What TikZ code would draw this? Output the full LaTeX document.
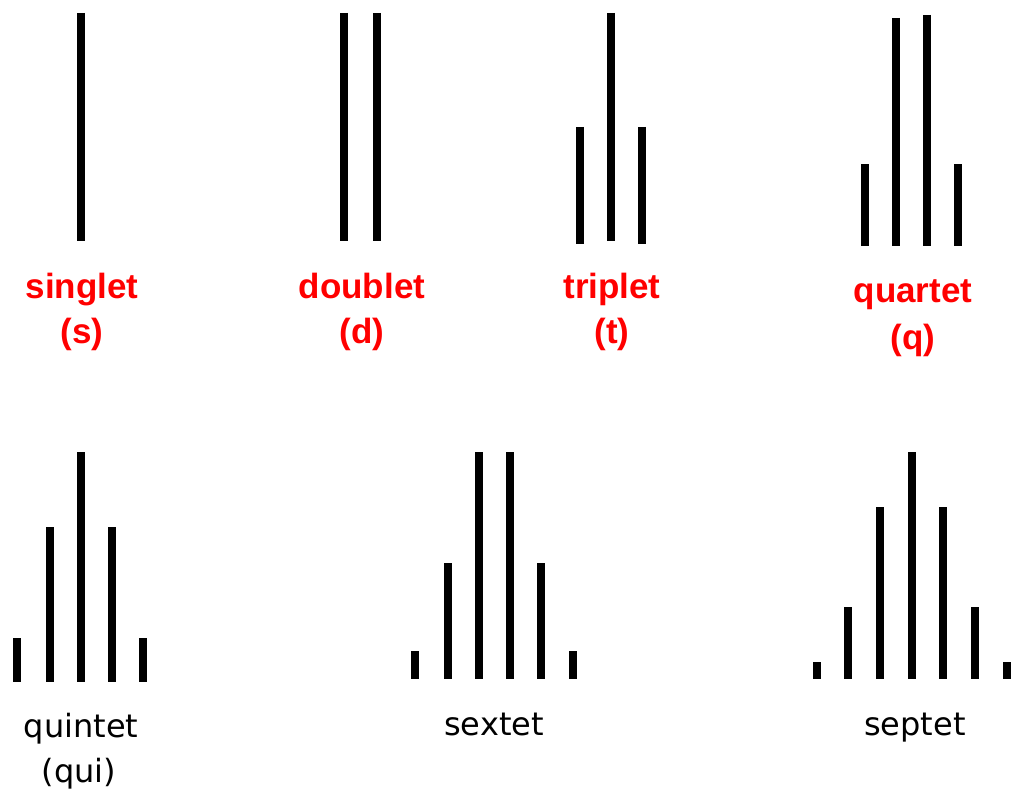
\documentclass[tikz,border=0pt]{standalone}
\usepackage{fontspec}
\setmainfont{Liberation Sans}
\newfontfamily\blackfont{DejaVu Sans}
\begin{document}
\begin{tikzpicture}[x=1pt,y=-1pt,
  bar/.style={line width=8.5pt,black,line cap=butt},
  redlbl/.style={anchor=base,inner sep=0pt,text=red,font=\fontsize{35}{40}\selectfont\bfseries},
  blklbl/.style={anchor=base,inner sep=0pt,text=black,font=\blackfont\fontsize{32}{38}\selectfont}]
\useasboundingbox (0,0) rectangle (1014,789);
% singlet
\draw[bar] (81,13) -- (81,241);
% doublet
\draw[bar] (344,13) -- (344,241);
\draw[bar] (377,13) -- (377,241);
% triplet
\draw[bar] (580,127) -- (580,244);
\draw[bar] (611,13) -- (611,241);
\draw[bar] (642,127) -- (642,244);
% quartet
\draw[bar] (865,164) -- (865,246);
\draw[bar] (896,18) -- (896,246);
\draw[bar] (927,15) -- (927,246);
\draw[bar] (958,164) -- (958,246);
% quintet
\draw[bar] (17,638) -- (17,682);
\draw[bar] (50,527) -- (50,682);
\draw[bar] (81,452) -- (81,682);
\draw[bar] (112,527) -- (112,682);
\draw[bar] (143,638) -- (143,682);
% sextet
\draw[bar] (415,651) -- (415,679);
\draw[bar] (448,563) -- (448,679);
\draw[bar] (479,452) -- (479,679);
\draw[bar] (510,452) -- (510,679);
\draw[bar] (541,563) -- (541,679);
\draw[bar] (573,651) -- (573,679);
% septet
\draw[bar] (817,662) -- (817,679);
\draw[bar] (848,607) -- (848,679);
\draw[bar] (880,507) -- (880,679);
\draw[bar] (912,452) -- (912,679);
\draw[bar] (943,507) -- (943,679);
\draw[bar] (975,607) -- (975,679);
\draw[bar] (1007,662) -- (1007,679);
% labels
\node[redlbl] (singlet) at (82,298) {singlet};
\node[redlbl] (s) at (82,343) {(s)};
\node[redlbl] (doublet) at (362,298) {doublet};
\node[redlbl] (d) at (362,343) {(d)};
\node[redlbl] (triplet) at (612,298) {triplet};
\node[redlbl] (t) at (612,343) {(t)};
\node[redlbl] (quartet) at (913,302) {quartet};
\node[redlbl] (q) at (913,349) {(q)};
\node[blklbl] (quintet) at (81,737) {quintet};
\node[blklbl] (qui) at (79,782) {(qui)};
\node[blklbl] (sextet) at (494,735) {sextet};
\node[blklbl] (septet) at (915,735) {septet};
\end{tikzpicture}
\end{document}
